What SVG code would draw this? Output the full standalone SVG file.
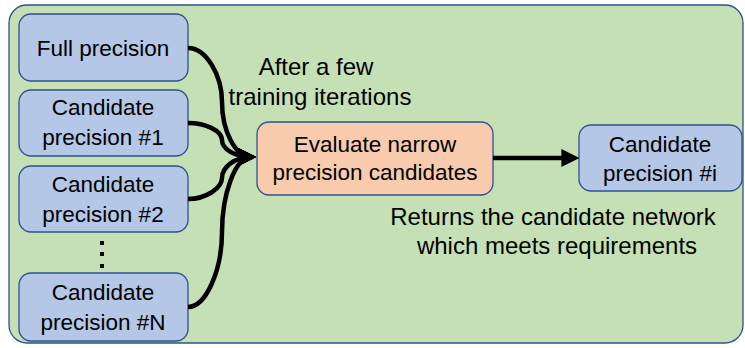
<svg xmlns="http://www.w3.org/2000/svg" width="745" height="348" viewBox="0 0 745 348">
<defs>
<style>
.box{fill:#B4C7E7;stroke:#2F528F;stroke-width:1.3}
.eval{fill:#F8CBAD;stroke:#2F528F;stroke-width:1.3}
.bt{font-family:"Liberation Sans",Arial,sans-serif;font-size:22.5px;fill:#000;text-anchor:middle}
.lt{font-family:"Liberation Sans",Arial,sans-serif;font-size:24px;fill:#000;text-anchor:middle}
.conn{fill:none;stroke:#000;stroke-width:4.5;marker-end:url(#ah)}
</style>
<marker id="ah" viewBox="0 0 10 10" refX="7" refY="5" markerWidth="4" markerHeight="4" markerUnits="strokeWidth" orient="auto">
<path d="M0,0 L10,5 L0,10 z" fill="#000"/>
</marker>
</defs>
<rect id="background" x="9" y="5" width="734" height="338" rx="18" fill="#C5E0B4" stroke="#2F528F" stroke-width="1.3"/>
<g id="full-precision">
<rect class="box" x="19" y="14" width="169" height="67" rx="12"/>
<text class="bt" x="103" y="56">Full precision</text>
</g>
<g id="candidate-1">
<rect class="box" x="19" y="90" width="169" height="66" rx="12"/>
<text class="bt" x="103" y="115">Candidate</text>
<text class="bt" x="103" y="145">precision #1</text>
</g>
<g id="candidate-2">
<rect class="box" x="19" y="166" width="169" height="66" rx="12"/>
<text class="bt" x="103" y="192">Candidate</text>
<text class="bt" x="103" y="222">precision #2</text>
</g>
<g id="ellipsis">
<rect x="100" y="241" width="4" height="4" fill="#000"/>
<rect x="100" y="252" width="4" height="4" fill="#000"/>
<rect x="100" y="264" width="4" height="4" fill="#000"/>
</g>
<g id="candidate-n">
<rect class="box" x="19" y="273" width="169" height="68" rx="12"/>
<text class="bt" x="103" y="300">Candidate</text>
<text class="bt" x="103" y="330">precision #N</text>
</g>
<g id="evaluate">
<rect class="eval" x="257" y="122" width="236" height="73" rx="12"/>
<text class="bt" x="375" y="152">Evaluate narrow</text>
<text class="bt" x="375" y="180">precision candidates</text>
</g>
<g id="candidate-i">
<rect class="box" x="579" y="125" width="163" height="66" rx="12"/>
<text class="bt" x="660" y="152">Candidate</text>
<text class="bt" x="660" y="181">precision #i</text>
</g>
<g id="labels">
<text class="lt" x="316" y="75">After a few</text>
<text class="lt" x="320" y="105">training iterations</text>
<text class="lt" x="553" y="225">Returns the candidate network</text>
<text class="lt" x="557" y="254">which meets requirements</text>
</g>
<g id="connectors">
<path class="conn" d="M188,48 C206,48 222,75 222,102 C222,130 235,157 251,157"/>
<path class="conn" d="M188,123 C206,123 222,131 222,140 C222,149 235,157 251,157"/>
<path class="conn" d="M188,199 C206,199 222,188 222,178 C222,167 235,157 251,157"/>
<path class="conn" d="M188,307 C206,307 222,270 222,232 C222,195 235,157 251,157"/>
<path class="conn" d="M493,158 L574,158"/>
</g>
</svg>
